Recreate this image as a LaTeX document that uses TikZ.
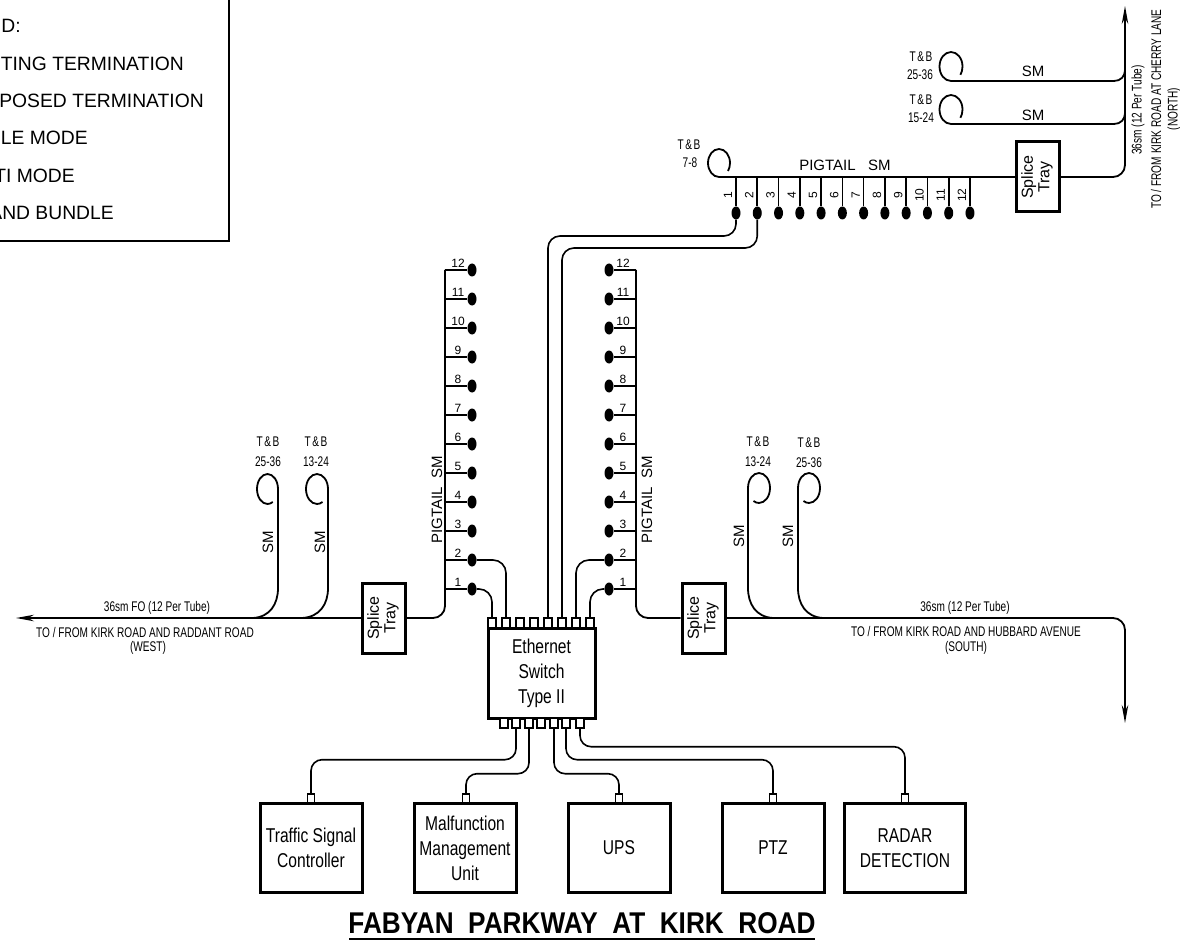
\documentclass[tikz,border=0pt]{standalone}
\usepackage{fontspec}
\setmainfont{Liberation Sans}
\newfontfamily\narrowfont[FakeStretch=0.72]{Liberation Sans}
\newfontfamily\boxfont[FakeStretch=0.78]{Liberation Sans}
\newfontfamily\titlefont[FakeStretch=0.873]{Liberation Sans}
\usetikzlibrary{shapes.geometric, arrows.meta, positioning, calc}
\newcommand{\traylabel}{\rotatebox{90}{\begin{tabular}{@{}c@{}}Splice\\[-1.5pt]Tray\end{tabular}}}
\newcommand{\tbname}{T\hspace{1.6pt}\&\hspace{1.6pt}B}
\tikzset{
  wire/.style={line width=1.8pt},
  bendwire/.style={wire, rounded corners=12pt},
  stub/.style={line width=1.6pt},
  fdot/.style={draw=none, fill=black, ellipse, inner sep=0pt, minimum width=9pt, minimum height=13pt},
  num/.style={font=\fontsize{12}{12}\selectfont, inner sep=0pt},
  port/.style={draw, line width=1.4pt, fill=white, inner sep=0pt, minimum width=8pt, minimum height=10pt},
  tray/.style={draw, line width=3pt, fill=white, minimum width=43pt, minimum height=70pt, inner sep=0pt, font=\fontsize{16}{18}\selectfont},
  devbox/.style={draw, line width=3pt, fill=white, inner sep=0pt, align=center, font=\boxfont\fontsize{20}{25}\selectfont},
  nlabel/.style={font=\narrowfont\fontsize{14}{16}\selectfont, inner sep=0pt},
  slabel/.style={font=\fontsize{15}{17}\selectfont, inner sep=0pt},
  legtext/.style={font=\fontsize{19.3}{21}\selectfont, inner sep=0pt, anchor=east},
  endarrow/.style={-{Stealth[length=18pt,width=6.5pt]}}
}
\begin{document}
\begin{tikzpicture}[x=1pt,y=-1pt]
\useasboundingbox (0,0) rectangle (1180,941);
% legend
\coordinate (legtr) at (229,0);
\coordinate (legbr) at (229,241);
\coordinate (legbl) at (0,241);
\draw[line width=1.2pt] (legtr) -- (legbr) -- (legbl);
\node[legtext] (leg0) at (21,26) {ND:};
\node[legtext] (leg1) at (184,64) {TING TERMINATION};
\node[legtext] (leg2) at (204,101) {POSED TERMINATION};
\node[legtext] (leg3) at (88,138) {LE MODE};
\node[legtext] (leg4) at (75,176) {TI MODE};
\node[legtext] (leg5) at (114,213) {AND BUNDLE};

% splice trays
\node[tray] (ltray) at (383.5,618) {\traylabel};
\node[tray] (rtray) at (703.5,618) {\traylabel};
\node[tray] (ttray) at (1037.5,177) {\traylabel};

% switch
\node[devbox, minimum width=107pt, minimum height=90pt] (sw) at (541.5,673) {Ethernet\\Switch\\Type II};
\foreach \i/\px in {1/492,2/506,3/520,4/534,5/548,6/562,7/576,8/590}
  \node[port] (swt\i) at (\px,623) {};
\foreach \i/\px in {1/504,2/516,3/529,4/541,5/554,6/566,7/580}
  \node[port] (swb\i) at (\px,723) {};

% left pigtail
\foreach \i in {1,...,12} {
  \pgfmathsetmacro{\py}{589-29*(\i-1)}
  \coordinate (lv\i) at (445,\py);
  \node[fdot] (ld\i) at (472,\py) {};
  \draw[stub] (lv\i) -- (ld\i);
  \node[num, above=2pt] (ln\i) at (458,\py) {\i};
}
% right pigtail
\foreach \i in {1,...,12} {
  \pgfmathsetmacro{\py}{589-29*(\i-1)}
  \coordinate (rv\i) at (636,\py);
  \node[fdot] (rd\i) at (609,\py) {};
  \draw[stub] (rv\i) -- (rd\i);
  \node[num, above=2pt] (rn\i) at (623,\py) {\i};
}
% top pigtail
\foreach \i in {1,...,12} {
  \pgfmathsetmacro{\px}{736+21.27*(\i-1)}
  \coordinate (tv\i) at (\px,177);
  \node[fdot] (td\i) at (\px,213) {};
  \draw[stub] (tv\i) -- (td\i);
  \node[num, rotate=90] (tn\i) at ($(tv\i)+(-8,18)$) {\i};
}

% main runs
\coordinate (wend) at (16,618);
\coordinate (send) at (1125,723);
\coordinate (nend) at (1125,6);
\coordinate (tstart) at (719,177);
\draw[wire, endarrow] (ltray.west) -- (wend);
\draw[bendwire] (ltray.east) -| (lv12);
\draw[bendwire] (rtray.west) -| (rv12);
\draw[bendwire, endarrow] (rtray.east) -| (send);
\draw[bendwire, endarrow] (ttray.east) -| (nend);
\draw[wire] (ttray.west) -- (tstart);
\draw[wire] (tstart) arc[start angle=90, end angle=395, x radius=11, y radius=14];

% switch to pigtails
\draw[stub, rounded corners=13pt] (ld1) -| (swt1.north);
\draw[stub, rounded corners=13pt] (ld2) -| (swt2.north);
\draw[stub, rounded corners=13pt] (rd2) -| (swt7.north);
\draw[stub, rounded corners=13pt] (rd1) -| (swt8.north);
\draw[stub, rounded corners=12pt] (swt5.north) |- (td1.south |- 0,236) -- (td1);
\draw[stub, rounded corners=12pt] (swt6.north) |- (td2.south |- 0,248) -- (td2);

% slack loops
\draw[wire] (253,618) .. controls (270,617) and (278,604) .. (278,588) -- (278,489) arc[start angle=0, end angle=-300, x radius=10.5, y radius=15];
\draw[wire] (302,618) .. controls (320,617) and (328,604) .. (328,588) -- (328,489) arc[start angle=0, end angle=-300, x radius=11, y radius=15];
\draw[wire] (773,618) .. controls (756,617) and (748,604) .. (748,588) -- (748,488) arc[start angle=180, end angle=480, x radius=11, y radius=15];
\draw[wire] (823,618) .. controls (806,617) and (798,604) .. (798,588) -- (798,488) arc[start angle=180, end angle=480, x radius=11, y radius=15];
\draw[wire] (1125,70) .. controls (1125,76) and (1121,81) .. (1114,81) -- (951,81) arc[start angle=90, end angle=395, x radius=11.5, y radius=14.5];
\draw[wire] (1125,113) .. controls (1125,119) and (1121,124) .. (1114,124) -- (951,124) arc[start angle=90, end angle=395, x radius=11.5, y radius=14.5];

% devices
\node[devbox, minimum width=102pt, minimum height=89pt] (tsc) at (311,848) {\raisebox{-2pt}{Traffic Signal}\\\raisebox{-2pt}{Controller}};
\node[devbox, minimum width=102pt, minimum height=89pt] (mmu) at (465,848) {Malfunction\\Management\\Unit};
\node[devbox, minimum width=102pt, minimum height=89pt] (ups) at (619,848) {UPS};
\node[devbox, minimum width=102pt, minimum height=89pt] (ptz) at (773,848) {PTZ};
\node[devbox, minimum width=121pt, minimum height=89pt] (rad) at (905,848) {RADAR\\DETECTION};
\foreach \nm/\px in {tsc/311,mmu/466,ups/619,ptz/773,rad/905}
  \node[port, minimum width=7pt, minimum height=9pt] (p\nm) at (\px,798.5) {};
\draw[stub, rounded corners=11pt] (swb2.south) -- ++(0,31) -| (ptsc.north);
\draw[stub, rounded corners=11pt] (swb3.south) -- ++(0,45) -| (pmmu.north);
\draw[stub, rounded corners=11pt] (swb5.south) -- ++(0,45) -| (pups.north);
\draw[stub, rounded corners=11pt] (swb6.south) -- ++(0,31) -| (pptz.north);
\draw[stub, rounded corners=11pt] (swb7.south) -- ++(0,18) -| (prad.north);

% text
\node[nlabel] (tb1) at (268,442) {\tbname};
\node[nlabel] (tb1n) at (268,462) {25-36};
\node[nlabel] (tb2) at (316,442) {\tbname};
\node[nlabel] (tb2n) at (316,462) {13-24};
\node[nlabel] (tb3) at (758,442) {\tbname};
\node[nlabel] (tb3n) at (758,462) {13-24};
\node[nlabel] (tb4) at (809,443) {\tbname};
\node[nlabel] (tb4n) at (809,463) {25-36};
\node[nlabel] (tb5) at (921,57) {\tbname};
\node[nlabel] (tb5n) at (920,75) {25-36};
\node[nlabel] (tb6) at (921,100) {\tbname};
\node[nlabel] (tb6n) at (921,118) {15-24};
\node[nlabel] (tb7) at (689,145) {\tbname};
\node[nlabel] (tb7n) at (690,163) {7-8};
\node[slabel, rotate=90] (sm1) at (268,542) {SM};
\node[slabel, rotate=90] (sm2) at (320,542) {SM};
\node[slabel, rotate=90] (sm3) at (739,536) {SM};
\node[slabel, rotate=90] (sm4) at (788,536) {SM};
\node[slabel] (sm5) at (1033,71) {SM};
\node[slabel] (sm6) at (1033,115) {SM};
\node[slabel] (pigt) at (845,165) {PIGTAIL\ \ \ SM};
\node[slabel, rotate=90] (pigl) at (437,500) {PIGTAIL\ \ SM};
\node[slabel, rotate=90] (pigr) at (647,500) {PIGTAIL\ \ SM};
\node[nlabel] (wl1) at (157,608) {36sm FO (12 Per Tube)};
\node[nlabel] (wl2) at (145,632) {TO / FROM KIRK ROAD AND RADDANT ROAD};
\node[nlabel] (wl3) at (148,648) {(WEST)};
\node[nlabel] (sl1) at (965,608) {36sm (12 Per Tube)};
\node[nlabel] (sl2) at (966,631) {TO / FROM KIRK ROAD AND HUBBARD AVENUE};
\node[nlabel] (sl3) at (966,648) {(SOUTH)};
\node[nlabel, rotate=90] (nl1) at (1138,110) {36sm (12 Per Tube)};
\node[nlabel, rotate=90] (nl2) at (1156,109) {TO / FROM KIRK ROAD AT CHERRY LANE};
\node[nlabel, rotate=90] (nl3) at (1174,109) {(NORTH)};
\node[font=\titlefont\bfseries\fontsize{30}{32}\selectfont, inner sep=0pt] (title) at (582,923) {FABYAN\ \ PARKWAY\ \ AT\ \ KIRK\ \ ROAD};
\coordinate (ulL) at (349,939);
\coordinate (ulR) at (815,939);
\draw[line width=2pt] (ulL) -- (ulR);
\end{tikzpicture}
\end{document}
